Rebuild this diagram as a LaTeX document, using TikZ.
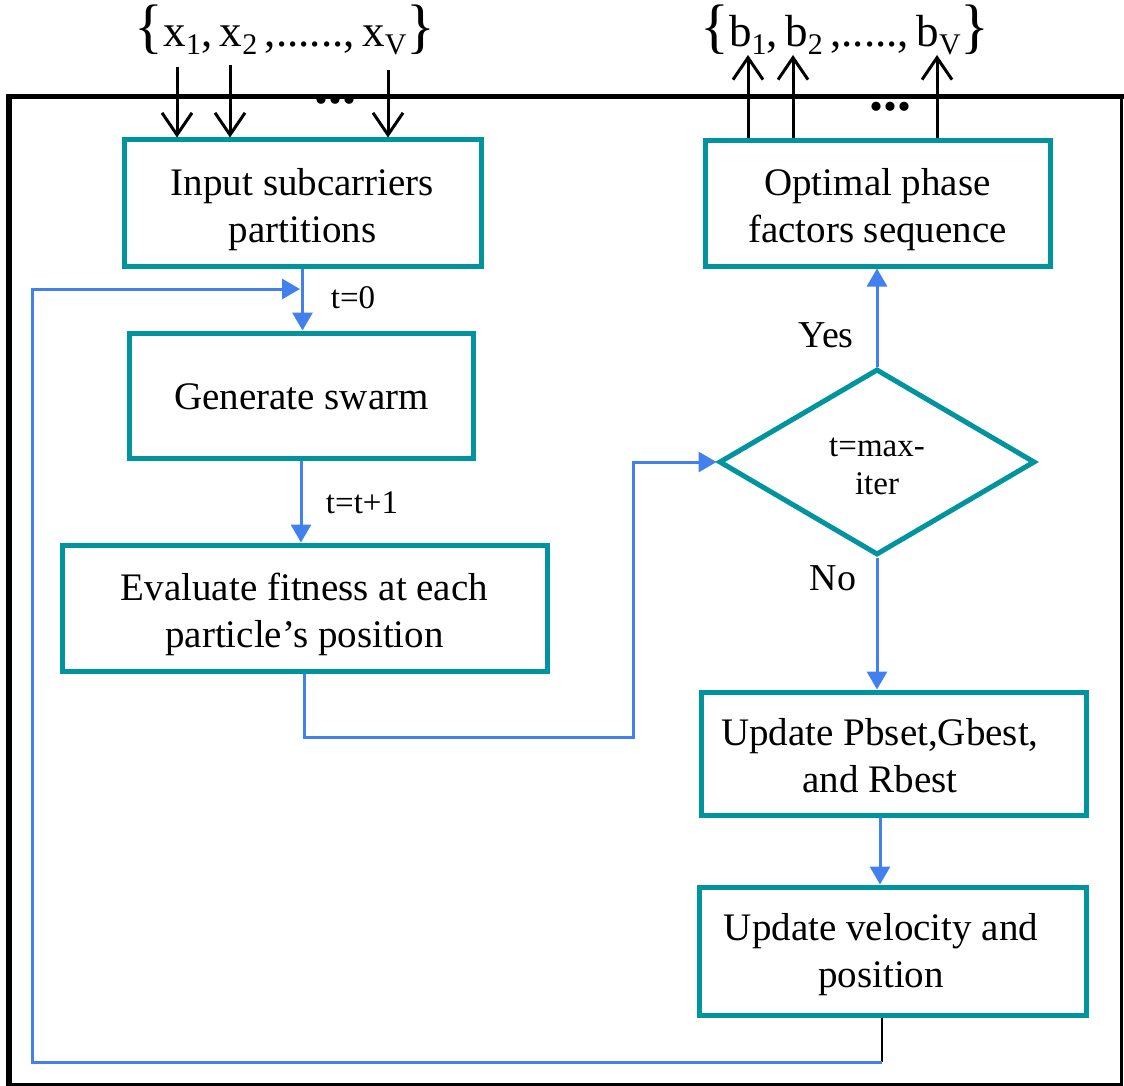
\documentclass[tikz,border=0pt]{standalone}
\usepackage{fontspec}
\setmainfont{Liberation Serif}
\usetikzlibrary{arrows.meta,shapes.geometric}
\definecolor{tealb}{RGB}{0,148,158}
\definecolor{flowc}{RGB}{66,128,240}
\newcommand\mysub[1]{\raisebox{-8pt}{\fontsize{30}{30}\selectfont #1}}
\newcommand\bigbr[1]{{\fontsize{60}{60}\selectfont #1}}
\begin{document}
\begin{tikzpicture}[x=1pt,y=-1pt,
  box/.style={draw=tealb,line width=5pt,rectangle,inner sep=0pt},
  dec/.style={draw=tealb,line width=5pt,diamond,inner sep=0pt},
  txt/.style={align=center,font=\fontsize{39}{47}\selectfont,inner sep=0pt},
  lbl/.style={font=\fontsize{33}{38}\selectfont,inner sep=0pt},
  lblb/.style={font=\fontsize{38}{42}\selectfont,inner sep=0pt},
  flowline/.style={draw=flowc,line width=3pt,-{Triangle[width=20pt,length=18pt]}},
  inarrow/.style={draw=black,line width=3pt,-{Straight Barb[width=30pt,length=22pt,line width=3pt]}}
]
\useasboundingbox (0,0) rectangle (1124,1086);
% frame
\draw[line width=6pt] (9,94) -- (9,1086);
\draw[line width=5pt] (6,97) -- (1124,97);
\draw[line width=3pt] (1121,97) -- (1121,1084) -- (9,1084);

% boxes
\node[box,minimum width=357pt,minimum height=126pt] (in) at (302.5,203) {};
\node[box,minimum width=344pt,minimum height=125pt] (gen) at (301,395.5) {};
\node[box,minimum width=485pt,minimum height=126pt] (eval) at (304.5,608) {};
\node[box,minimum width=345pt,minimum height=125pt] (opt) at (877.5,203.5) {};
\node[box,minimum width=385pt,minimum height=123pt] (upd) at (893.5,753.5) {};
\node[box,minimum width=387pt,minimum height=128pt] (vel) at (892.5,951) {};
\node[dec,minimum width=316pt,minimum height=186pt] (dec) at (877,462) {};

% texts
\node[txt] (in-t) at (302.5,210) {Input subcarriers\\partitions};
\node[txt] (opt-t) at (877.5,210) {Optimal phase\\factors sequence};
\node[txt] (gen-t) at (301.5,397) {Generate swarm};
\node[txt] (eval-t) at (304.5,614) {Evaluate fitness at each\\particle’s position};
\node[txt] (upd-t) at (880,756) {Update Pbset,Gbest,\\and Rbest};
\node[txt] (vel-t) at (881,955) {Update velocity and\\position};
\node[lbl,align=center] (dec-t) at (877,466) {t=max-\\iter};

\node[lbl] (l0) at (353,298) {t=0};
\node[lbl] (l1) at (362,503) {t=t+1};
\node[lblb] (yes) at (826,335) {Yes};
\node[lblb] (no) at (833,578) {No};

% input / output sets
\node[inner sep=0pt,font=\fontsize{45}{50}\selectfont] (xset) at (285,30)
  {\bigbr{\{}x\mysub{1},\,x\mysub{2}\,,......,\,x\mysub{V}\bigbr{\}}};
\node[inner sep=0pt,font=\fontsize{45}{50}\selectfont] (bset) at (845,30)
  {\bigbr{\{}b\mysub{1},\,b\mysub{2}\,,.....,\,b\mysub{V}\bigbr{\}}};
\node[inner sep=0pt,font=\fontsize{56}{56}\selectfont\bfseries] (dots1) at (335,100) {...};
\node[inner sep=0pt,font=\fontsize{56}{56}\selectfont\bfseries] (dots2) at (890,107) {...};

\coordinate (xs1) at (177,67);
\coordinate (xs2) at (230,65);
\coordinate (xs3) at (388,70);
\coordinate (bs1) at (748,55);
\coordinate (bs2) at (793,55);
\coordinate (bs3) at (937,55);
\draw[inarrow] (xs1) -- (xs1 |- in.north);
\draw[inarrow] (xs2) -- (xs2 |- in.north);
\draw[inarrow] (xs3) -- (xs3 |- in.north);
\draw[inarrow] (bs1 |- opt.north) -- (bs1);
\draw[inarrow] (bs2 |- opt.north) -- (bs2);
\draw[inarrow] (bs3 |- opt.north) -- (bs3);

% flow connectors
\draw[flowline] (in.south) -- (in.south |- gen.north);
\draw[flowline] (gen.south) -- (gen.south |- eval.north);
\coordinate (merge) at (300,289);
\coordinate (lp) at (882,1062);
\draw[line width=2pt,black] (vel.south -| lp) -- (lp);
\draw[flowline] (lp) -- (32,1062) -- (32,289) -- (merge);
\draw[flowline] (eval.south) -- ++(0,64) -- (633,737.5) -- (633,462) -- (dec.west);
\draw[flowline] (dec.north) -- (dec.north |- opt.south);
\draw[flowline] (dec.south) -- (dec.south |- upd.north);
\draw[flowline] (upd.south -| upd-t) -- (vel.north -| upd-t);
\end{tikzpicture}
\end{document}
